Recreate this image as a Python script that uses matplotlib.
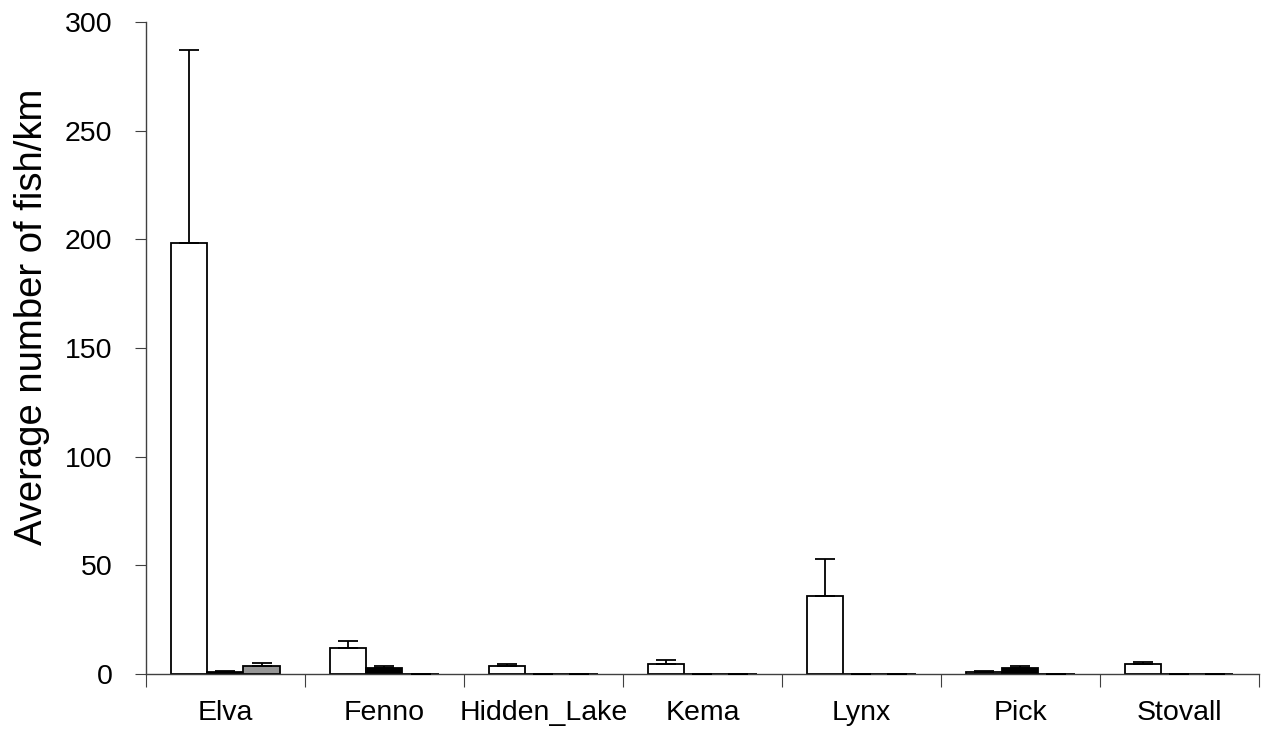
import numpy as np
import matplotlib.pyplot as plt

plt.rcParams['font.family'] = ['Liberation Sans', 'DejaVu Sans']

lakes = ["Elva", "Fenno", "Hidden_Lake", "Kema", "Lynx", "Pick", "Stovall"]

# mean fish/km for the three groups, with upper standard errors
white_mean = [198.5, 12.0, 3.4, 4.4, 36.0, 1.0, 4.3]
white_err = [88.5, 3.2, 0.9, 1.8, 16.8, 0.3, 1.1]
black_mean = [1.0, 2.6, 0.0, 0.0, 0.0, 2.8, 0.0]
black_err = [0.5, 0.8, 0.0, 0.0, 0.0, 0.9, 0.0]
gray_mean = [3.6, 0.0, 0.0, 0.0, 0.0, 0.0, 0.0]
gray_err = [1.5, 0.0, 0.0, 0.0, 0.0, 0.0, 0.0]

fig = plt.figure(figsize=(12.69, 7.38), dpi=100)
ax = fig.add_axes([0.115, 0.087, 0.877, 0.883])

x = np.arange(len(lakes)) + 0.5
w = 0.227
series = [
    (white_mean, white_err, "white", -w),
    (black_mean, black_err, "black", 0.0),
    (gray_mean, gray_err, "#969696", w),
]
for mean, err, col, off in series:
    ax.bar(x + off, mean, width=w, color=col, edgecolor="black", linewidth=1.3, zorder=2)
    ax.errorbar(x + off, mean, yerr=[np.zeros(len(err)), err], fmt="none",
                ecolor="black", elinewidth=1.3, capsize=7, capthick=1.3, zorder=3)

ax.set_xlim(0, len(lakes))
ax.set_ylim(0, 300)
ax.set_yticks(np.arange(0, 301, 50))
ax.set_xticks(np.arange(0, len(lakes) + 1))
ax.set_xticklabels([])
ax.set_xticks(x, minor=True)
ax.set_xticklabels(lakes, minor=True)
ax.tick_params(axis="x", which="minor", length=0, pad=19, labelsize=20.5)
ax.tick_params(axis="x", which="major", length=9, direction="out", color="#404040")
ax.tick_params(axis="y", length=8, direction="out", labelsize=20.5, pad=16, color="#404040")

for side in ["top", "right"]:
    ax.spines[side].set_visible(False)
for side in ["left", "bottom"]:
    ax.spines[side].set_color("#404040")
    ax.spines[side].set_linewidth(1.0)

ax.set_ylabel("Average number of fish/km", fontsize=27.5)
ax.yaxis.set_label_coords(-0.086, 0.548)

fig.savefig("out.png", dpi=100)
